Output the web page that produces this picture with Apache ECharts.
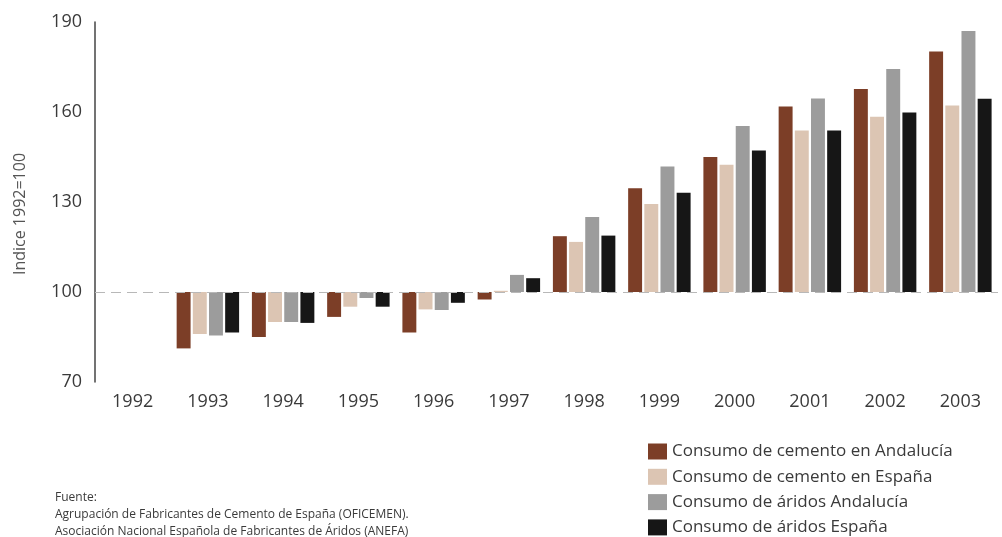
<!DOCTYPE html>
<html>
<head>
<meta charset="utf-8">
<script src="https://cdn.jsdelivr.net/npm/echarts@6/dist/echarts.min.js"></script>
<style>
  html, body { margin: 0; padding: 0; background: #fff; }
  #chart { width: 1002px; height: 537px; }
</style>
</head>
<body>
<div id="chart"></div>
<script>
var years = ['1992','1993','1994','1995','1996','1997','1998','1999','2000','2001','2002','2003'];
// indice 1992=100
var cementoAndalucia = [100, 81.2, 85, 91.7, 86.5, 97.5, 118.6, 134.6, 145, 161.8, 167.7, 180.2];
var cementoEspana    = [100, 86, 90, 95.1, 94.2, 100.4, 116.7, 129.3, 142.4, 153.8, 158.4, 162.2];
var aridosAndalucia  = [100, 85.5, 90, 98, 94, 105.7, 125, 141.8, 155.3, 164.5, 174.3, 187];
var aridosEspana     = [100, 86.5, 89.7, 95.1, 96.4, 104.6, 118.8, 133.1, 147.2, 153.8, 159.8, 164.4];
var yTicks = [70, 100, 130, 160, 190];

var base = 100;
var font = '"Open Sans", sans-serif';
var txt = '#3a3a3a';

function rel(arr) { return arr.map(function (v) { return +(v - base).toFixed(2); }); }

function bar(name, data, color) {
    return {
        name: name,
        type: 'bar',
        data: rel(data),
        itemStyle: { color: color },
        barGap: '16%',
        barCategoryGap: '17%'
    };
}

var series = [
    bar('Consumo de cemento en Andalucía', cementoAndalucia, '#7c3e27'),
    bar('Consumo de cemento en España', cementoEspana, '#dcc5b3'),
    bar('Consumo de áridos Andalucía', aridosAndalucia, '#9c9c9c'),
    bar('Consumo de áridos España', aridosEspana, '#161616')
];
series[0].markLine = {
    silent: true,
    symbol: 'none',
    label: { show: false },
    lineStyle: { color: '#b8b8b8', width: 1, type: [10, 6] },
    data: [{ yAxis: 0 }]
};

// one legend per row so nothing wraps
var legends = series.map(function (s, i) {
    return {
        left: 648,
        top: 443 + i * 25.3,
        padding: 0,
        itemWidth: 19,
        itemHeight: 16,
        icon: 'rect',
        textStyle: { fontFamily: font, fontSize: 17, color: txt },
        data: [s.name]
    };
});

option = {
    animation: false,
    title: {
        text: 'Fuente:\nAgrupación de Fabricantes de Cemento de España (OFICEMEN).\nAsociación Nacional Española de Fabricantes de Áridos (ANEFA)',
        left: 50,
        top: 484,
        textStyle: { fontFamily: font, fontSize: 12, fontWeight: 'normal', color: txt, lineHeight: 17 }
    },
    grid: { left: 95, right: 4, top: 22, bottom: 155 },
    legend: legends,
    graphic: [{
        type: 'text',
        x: 20,
        y: 214,
        rotation: Math.PI / 2,
        style: {
            text: 'Indice 1992=100',
            fontFamily: font,
            fontSize: 16,
            fill: '#555',
            align: 'center',
            verticalAlign: 'middle'
        }
    }],
    xAxis: {
        type: 'category',
        data: years,
        axisLine: { show: false },
        axisTick: { show: false },
        axisLabel: { fontFamily: font, fontSize: 18, color: txt, margin: 11 }
    },
    yAxis: {
        type: 'value',
        min: yTicks[0] - base,
        max: yTicks[yTicks.length - 1] - base,
        interval: 30,
        axisLine: { show: true, lineStyle: { color: '#444', width: 1.5 } },
        axisTick: { show: false },
        splitLine: { show: false },
        axisLabel: {
            fontFamily: font, fontSize: 18, color: txt, margin: 13,
            formatter: function (v) { return v + base; }
        }
    },
    series: series
};

var dom = document.getElementById('chart');
var myChart = echarts.init(dom);
myChart.setOption(option);
</script>
</body>
</html>
